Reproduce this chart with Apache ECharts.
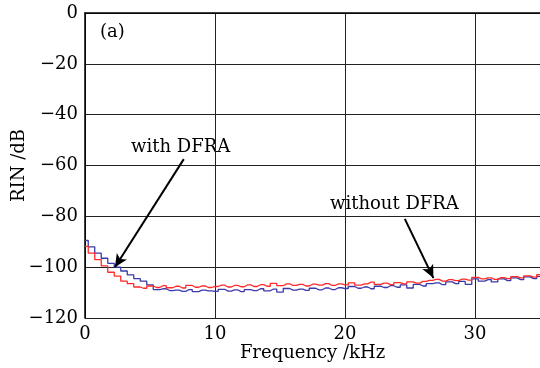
<!DOCTYPE html>
<html>
<head>
<meta charset="utf-8">
<script src="https://cdn.jsdelivr.net/npm/echarts@6/dist/echarts.min.js"></script>
<style>html,body{margin:0;padding:0;background:#fff;}#c{width:540px;height:368px;}</style>
</head>
<body>
<div id="c"></div>
<script>
var freq = [0,0.5,1,1.5,2,2.5,3,3.5,4,4.5,5,5.5,6,6.5,7,7.5,8,8.5,9,9.5,10,10.5,11,11.5,12,12.5,13,13.5,14,14.5,15,15.5,16,16.5,17,17.5,18,18.5,19,19.5,20,20.5,21,21.5,22,22.5,23,23.5,24,24.5,25,25.5,26,26.5,27,27.5,28,28.5,29,29.5,30,30.5,31,31.5,32,32.5,33,33.5,34,34.5,35];
var blueRIN = [-89.5,-92,-94.5,-96.5,-98.5,-100,-101.5,-103,-104.5,-105.5,-107,-108.8,-108.5,-109.2,-109,-109.5,-108.8,-109.6,-109,-109.3,-109.5,-108.7,-109.4,-108.9,-109.6,-108.8,-109.2,-108.5,-109.3,-108.6,-109.8,-108.4,-109,-108.6,-109.1,-108.3,-108.9,-108.2,-108.8,-108.1,-108.4,-107.6,-108.3,-107.8,-108.5,-107.5,-108,-107.3,-107.9,-107,-108.2,-106.8,-107.4,-106.5,-106.2,-106.9,-105.8,-106.5,-105.6,-106.8,-104.6,-105.5,-104.9,-105.8,-104.6,-105.3,-104.2,-104.9,-103.8,-104.5,-103.6];
var redRIN = [-91.8,-94.5,-97,-99.5,-102,-103.5,-105.5,-106.5,-107.8,-108.3,-107.4,-108,-107.3,-108.1,-107.5,-108.2,-107.2,-107.9,-107.4,-108,-107.6,-107.1,-107.8,-107.2,-107.7,-107,-107.6,-106.9,-107.5,-106.4,-107.3,-106.6,-107.2,-106.8,-107.4,-106.7,-107.1,-106.5,-107.2,-106.6,-107,-106.2,-107.1,-106.6,-105.9,-106.8,-106.3,-106.9,-106.1,-106.6,-105.8,-106.3,-105.6,-105.2,-104.8,-105.5,-104.9,-105.3,-104.7,-105.1,-104,-104.6,-104.2,-104.8,-104.1,-104.5,-103.7,-104.2,-103.4,-103.9,-102.9];
var xTicks = [0,10,20,30];
var yTicks = [0,-20,-40,-60,-80,-100,-120];

function pairs(v){ return freq.map(function(f,i){ return [f, v[i]]; }); }
var SERIF = '"DejaVu Serif", "Liberation Serif", serif';
var chart = echarts.init(document.getElementById('c'), null, {renderer:'canvas'});
chart.setOption({
  animation:false,
  backgroundColor:'#fff',
  grid:{left:85, right:0, top:13, bottom:50, containLabel:false, outerBoundsMode:'none'},
  xAxis:{
    type:'value', min:0, max:35, interval:10,
    name:'Frequency /kHz', nameLocation:'middle', nameGap:26, nameMoveOverlap:false,
    nameTextStyle:{fontFamily:SERIF, fontSize:18, color:'#000'},
    axisLine:{lineStyle:{color:'#000', width:1.5}},
    axisTick:{show:false},
    axisLabel:{fontFamily:SERIF, fontSize:18, color:'#000', margin:7, showMaxLabel:false},
    splitLine:{show:true, lineStyle:{color:'#222', width:1}}
  },
  yAxis:{
    type:'value', min:-120, max:0, interval:20,
    name:'RIN /dB', nameLocation:'middle', nameGap:57, nameRotate:90, nameMoveOverlap:false,
    nameTextStyle:{fontFamily:SERIF, fontSize:18, color:'#000'},
    axisLine:{show:true, lineStyle:{color:'#000', width:1.5}},
    axisTick:{show:false},
    axisLabel:{fontFamily:SERIF, fontSize:18, color:'#000', margin:7,
      formatter:function(v){ return String(v).replace('-', '\u2212'); }},
    splitLine:{show:true, lineStyle:{color:'#222', width:1}}
  },
  series:[
    {type:'line', step:'middle', data:pairs(blueRIN), showSymbol:false,
     lineStyle:{color:'#3a3aa8', width:1.3}, z:3},
    {type:'line', step:'middle', data:pairs(redRIN), showSymbol:false,
     lineStyle:{color:'#ff2a2a', width:1.3}, z:4,
     markLine:{silent:true, symbol:['none','arrow'], symbolSize:[9,13],
       label:{show:false},
       lineStyle:{color:'#000', width:2, type:'solid'},
       data:[
         [{coord:[7.6,-57.5]},{coord:[2.3,-100]}],
         [{coord:[24.6,-81]},{coord:[26.8,-104.3]}]
       ]}}
  ],
  graphic:[
    {type:'text', left:100, top:23, style:{text:'(a)', font:'18px '+SERIF, fill:'#000'}},
    {type:'text', left:131, top:138, style:{text:'with DFRA', font:'18px '+SERIF, fill:'#000'}},
    {type:'text', left:330, top:195, style:{text:'without DFRA', font:'18px '+SERIF, fill:'#000'}}
  ]
});
</script>
</body>
</html>
